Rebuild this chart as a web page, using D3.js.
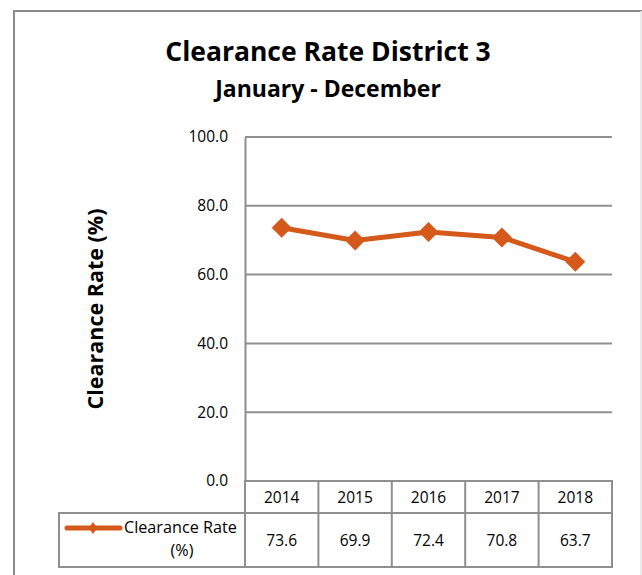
<!DOCTYPE html>
<html>
<head>
<meta charset="utf-8">
<script src="https://cdn.jsdelivr.net/npm/d3@7"></script>
<style>
  html, body { margin: 0; padding: 0; background: #fff; }
  svg { display: block; }
  text { font-family: "Open Sans", "Noto Sans", sans-serif; fill: #000; }
</style>
</head>
<body>
<svg id="chart" width="642" height="575"></svg>
<script>
// Chart data
const years = ["2014", "2015", "2016", "2017", "2018"];
const clearanceRate = [73.6, 69.9, 72.4, 70.8, 63.7];
const yTicks = [0, 20, 40, 60, 80, 100];
const seriesName = ["Clearance Rate", "(%)"];
const chartTitle = "Clearance Rate District 3";
const chartSubtitle = "January - December";
const yAxisTitle = "Clearance Rate (%)";

const lineColor = "#D4591A";
const gridColor = "#8f8f8f";

const svg = d3.select("#chart");

// Outer chart frame
svg.append("rect")
  .attr("x", 14).attr("y", 11)
  .attr("width", 640).attr("height", 580)
  .attr("fill", "none")
  .attr("stroke", "#8a8a8a").attr("stroke-width", 2);
svg.append("line")
  .attr("x1", 641).attr("x2", 641).attr("y1", 11).attr("y2", 575)
  .attr("stroke", "#e4e4e4").attr("stroke-width", 1.5);

const plot = { left: 245, right: 612, top: 137, bottom: 481 };

const x = d3.scaleBand().domain(years).range([plot.left, plot.right]);
const y = d3.scaleLinear().domain([0, 100]).range([plot.bottom, plot.top]);

// Titles
svg.append("text")
  .attr("x", 328).attr("y", 61)
  .attr("text-anchor", "middle")
  .style("font-size", "26.5px").style("font-weight", "bold")
  .text(chartTitle);
svg.append("text")
  .attr("x", 328).attr("y", 97)
  .attr("text-anchor", "middle")
  .style("font-size", "23px").style("font-weight", "bold")
  .text(chartSubtitle);

// Y axis title
svg.append("text")
  .attr("transform", "translate(103,309) rotate(-90)")
  .attr("text-anchor", "middle")
  .style("font-size", "21.5px").style("font-weight", "bold")
  .text(yAxisTitle);

// Gridlines
svg.append("g")
  .selectAll("line")
  .data(yTicks)
  .join("line")
  .attr("x1", plot.left).attr("x2", plot.right)
  .attr("y1", d => y(d)).attr("y2", d => y(d))
  .attr("stroke", gridColor).attr("stroke-width", 2);

// Y axis (labels only, gridlines drawn above)
const yAxis = d3.axisLeft(y)
  .tickValues(yTicks)
  .tickFormat(d3.format(".1f"))
  .tickSize(0)
  .tickPadding(17);
const gy = svg.append("g")
  .attr("transform", `translate(${plot.left},0)`)
  .call(yAxis);
gy.select(".domain").attr("stroke", gridColor).attr("stroke-width", 2);
gy.selectAll("text")
  .style("font-size", "15.5px")
  .style("font-family", "'Open Sans', sans-serif")
  .attr("fill", "#000");

// Data table below plot
const headerTop = plot.bottom, headerBottom = 513, rowBottom = 567;
const legendLeft = 59;
const tbl = svg.append("g").attr("fill", "none").attr("stroke", gridColor).attr("stroke-width", 2);

// header row
tbl.append("rect")
  .attr("x", plot.left).attr("y", headerTop)
  .attr("width", plot.right - plot.left).attr("height", headerBottom - headerTop);
// value row
tbl.append("rect")
  .attr("x", legendLeft).attr("y", headerBottom)
  .attr("width", plot.right - legendLeft).attr("height", rowBottom - headerBottom);
// column dividers
tbl.selectAll("line.col")
  .data(years)
  .join("line")
  .attr("class", "col")
  .attr("x1", d => x(d)).attr("x2", d => x(d))
  .attr("y1", headerTop).attr("y2", rowBottom);

svg.append("g")
  .selectAll("text")
  .data(years)
  .join("text")
  .attr("x", d => x(d) + x.bandwidth() / 2)
  .attr("y", 503)
  .attr("text-anchor", "middle")
  .style("font-size", "15.5px")
  .text(d => d);

svg.append("g")
  .selectAll("text")
  .data(clearanceRate)
  .join("text")
  .attr("x", (d, i) => x(years[i]) + x.bandwidth() / 2)
  .attr("y", 546)
  .attr("text-anchor", "middle")
  .style("font-size", "15.5px")
  .text(d => d3.format(".1f")(d));

// Rotated-square diamond marker
const diamond = area => d3.symbol(d3.symbolSquare, area)();

// Legend key inside the table
svg.append("line")
  .attr("x1", 67).attr("x2", 120).attr("y1", 528).attr("y2", 528)
  .attr("stroke", lineColor).attr("stroke-width", 5).attr("stroke-linecap", "round");
svg.append("path")
  .attr("d", diamond(36))
  .attr("transform", "translate(93,528) scale(1,1.4) rotate(45)")
  .attr("fill", lineColor);
svg.append("text")
  .attr("x", 124).attr("y", 533)
  .style("font-size", "16.2px")
  .text(seriesName[0]);
svg.append("text")
  .attr("x", 182).attr("y", 556)
  .attr("text-anchor", "middle")
  .style("font-size", "16.2px")
  .text(seriesName[1]);

// Series line and markers
const line = d3.line()
  .x((d, i) => x(years[i]) + x.bandwidth() / 2)
  .y(d => y(d));
svg.append("path")
  .datum(clearanceRate)
  .attr("d", line)
  .attr("fill", "none")
  .attr("stroke", lineColor)
  .attr("stroke-width", 5)
  .attr("stroke-linejoin", "round");

svg.append("g")
  .selectAll("path")
  .data(clearanceRate)
  .join("path")
  .attr("d", diamond(200))
  .attr("transform", (d, i) => `translate(${x(years[i]) + x.bandwidth() / 2},${y(d)}) rotate(45)`)
  .attr("fill", lineColor);
</script>
</body>
</html>
